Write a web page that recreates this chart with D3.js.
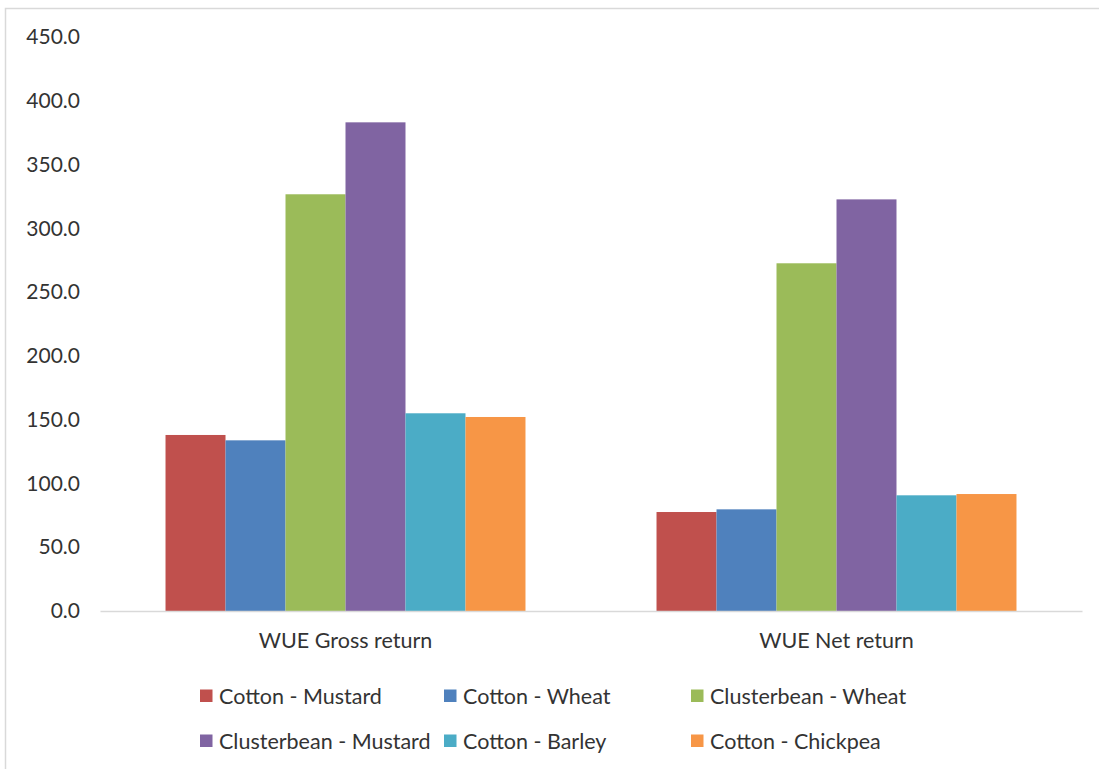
<!DOCTYPE html>
<html>
<head>
<meta charset="utf-8">
<script src="https://cdn.jsdelivr.net/npm/d3@7"></script>
<style>
  html, body { margin: 0; padding: 0; background: #fff; }
  svg { display: block; font-family: Lato, "Open Sans", sans-serif; }
</style>
</head>
<body>
<svg id="chart" width="1099" height="769"></svg>
<script>
// Water use efficiency (WUE) by cropping system
const categories = ["WUE Gross return", "WUE Net return"];
const seriesNames = ["Cotton - Mustard", "Cotton - Wheat", "Clusterbean - Wheat",
                     "Clusterbean - Mustard", "Cotton - Barley", "Cotton - Chickpea"];
const grossReturn = [138.0, 133.8, 326.7, 383.1, 155.0, 152.1];
const netReturn   = [77.6, 79.7, 272.6, 322.7, 90.7, 91.7];
const seriesColors = ["#C0504D", "#4F81BD", "#9BBB59", "#8064A2", "#4BACC6", "#F79646"];
const yTicks = [0, 50, 100, 150, 200, 250, 300, 350, 400, 450];

const valuesByCategory = [grossReturn, netReturn];

const svg = d3.select("#chart");
const textColor = "#333333";
const gridColor = "#d9d9d9";

// chart frame
svg.append("path")
  .attr("d", "M5.5,769 V8.5 H1099")
  .attr("fill", "none")
  .attr("stroke", gridColor)
  .attr("stroke-width", 1.5);

const plot = { left: 100, right: 1082, top: 37, bottom: 611 };

const x0 = d3.scaleBand()
  .domain(categories)
  .range([plot.left, plot.right])
  .paddingInner(0).paddingOuter(0);

const x1 = d3.scaleBand()
  .domain(seriesNames)
  .range([0, x0.bandwidth()])
  .paddingInner(0)
  .paddingOuter(1.092);

const y = d3.scaleLinear()
  .domain([0, 450])
  .range([plot.bottom, plot.top]);

// bars
const groups = svg.append("g").selectAll("g")
  .data(categories)
  .join("g")
  .attr("transform", d => `translate(${x0(d)},0)`);

groups.selectAll("rect")
  .data((c, i) => seriesNames.map((s, j) => ({ s, v: valuesByCategory[i][j], color: seriesColors[j] })))
  .join("rect")
  .attr("x", d => x1(d.s))
  .attr("y", d => y(d.v))
  .attr("width", x1.bandwidth())
  .attr("height", d => y(0) - y(d.v))
  .attr("fill", d => d.color);

// y axis labels
const yAxis = d3.axisLeft(y)
  .tickValues(yTicks)
  .tickFormat(d3.format(".1f"))
  .tickSize(0)
  .tickPadding(0);

const yg = svg.append("g")
  .attr("transform", "translate(80,0)")
  .call(yAxis);
yg.select(".domain").remove();
yg.selectAll("text")
  .attr("fill", textColor)
  .style("font-size", "21px")
  .style("font-family", "Lato, 'Open Sans', sans-serif");

// category axis
const xAxis = d3.axisBottom(x0).tickSize(0).tickPadding(0);
const xg = svg.append("g")
  .attr("transform", `translate(0,${plot.bottom})`)
  .call(xAxis);
xg.select(".domain")
  .attr("stroke", gridColor)
  .attr("stroke-width", 1.5);
xg.selectAll("text")
  .attr("fill", textColor)
  .attr("dy", "0")
  .attr("y", 37)
  .style("font-size", "21.5px")
  .style("font-family", "Lato, 'Open Sans', sans-serif");

// legend
const legendCols = [200, 444, 691];
const legendRows = [696, 741];
const legend = svg.append("g");
seriesNames.forEach((name, i) => {
  const gx = legendCols[i % 3];
  const gy = legendRows[Math.floor(i / 3)];
  const item = legend.append("g").attr("transform", `translate(${gx},${gy})`);
  item.append("rect")
    .attr("x", 0).attr("y", -6.5)
    .attr("width", 12.5).attr("height", 12.5)
    .attr("fill", seriesColors[i]);
  item.append("text")
    .attr("x", 19)
    .attr("y", 0)
    .attr("dy", "0.35em")
    .attr("fill", textColor)
    .style("font-size", "21.5px")
    .text(name);
});
</script>
</body>
</html>
